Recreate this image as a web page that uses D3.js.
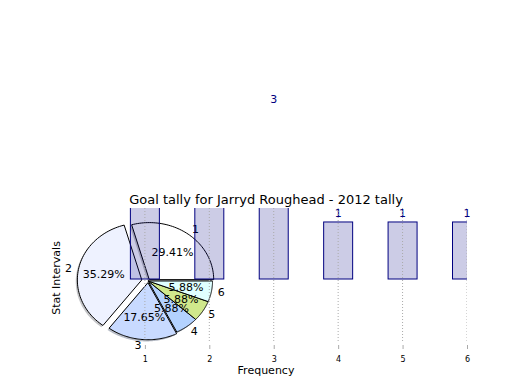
<!DOCTYPE html>
<html><head><meta charset="utf-8">
<script src="https://cdn.jsdelivr.net/npm/d3@7"></script>
<style>body{margin:0;background:#fff}svg{font-family:"DejaVu Sans",sans-serif}</style>
</head><body><svg id="c" width="520" height="390"></svg>
<script>
const categories = [1, 2, 3, 4, 5, 6];
const goalCounts = [5, 6, 3, 1, 1, 1];
const sliceLabels = ["1", "2", "3", "4", "5", "6"];
const sliceColors = ["#ffffff", "#eef2ff", "#c8daff", "#b3d2ff", "#d0e88c", "#e0ffff"];
const sliceExplode = [0.03, 0.1, 0.03, 0, 0, 0];
const xTicks = [1, 2, 3, 4, 5, 6];
const titleText = "Goal tally for Jarryd Roughead - 2012 tally";

const svg = d3.select("#c");
const L = 65, R = 467, T = 208, B = 348;
const x = d3.scaleLinear().domain([-0.24, 6]).range([L, R]);
const y = d3.scaleLinear().domain([-1.21, 1.245]).range([B, T]);

svg.append("defs").append("clipPath").attr("id", "ax")
  .append("rect").attr("x", L).attr("y", T).attr("width", R - L).attr("height", B - T);

// ---- pie (radius 1 in data units, elliptical due to axes aspect) ----
const pc = [1.05, -0.035], pr = 1;
const total = d3.sum(goalCounts);
const arcs = d3.pie().sort(null).startAngle(Math.PI / 2).endAngle(Math.PI / 2 - 2 * Math.PI)(goalCounts);
function pt(cx, cy, r, th) { return [x(cx + r * Math.sin(th)), y(cy + r * Math.cos(th))]; }
function wedgePath(a, cx, cy) {
  const n = 60, pts = [[x(cx), y(cy)]];
  for (let i = 0; i <= n; i++) pts.push(pt(cx, cy, pr, a.startAngle + (a.endAngle - a.startAngle) * i / n));
  return "M" + pts.map(p => p.join(",")).join("L") + "Z";
}
const pieG = svg.append("g");
const geo = arcs.map((a, i) => {
  const mid = (a.startAngle + a.endAngle) / 2;
  const e = sliceExplode[i];
  return { a, i, mid, cx: pc[0] + e * pr * Math.sin(mid), cy: pc[1] + e * pr * Math.cos(mid) };
});
geo.forEach(g => {
  pieG.append("path").attr("d", wedgePath(g.a, g.cx - 0.025, g.cy - 0.03))
    .attr("fill", d3.color(sliceColors[g.i]).darker(1.6)).attr("opacity", 0.5);
});
geo.forEach(g => {
  pieG.append("path").attr("d", wedgePath(g.a, g.cx, g.cy))
    .attr("fill", sliceColors[g.i]).attr("stroke", "#000").attr("stroke-width", 1).attr("stroke-linejoin", "round");
});
geo.forEach(g => {
  const lp = pt(g.cx, g.cy, 1.1 * pr, g.mid);
  const right = Math.sin(g.mid) > 0;
  pieG.append("text").attr("x", lp[0]).attr("y", lp[1]).attr("dy", "0.35em")
    .attr("text-anchor", right ? "start" : "end").attr("font-size", 11).text(sliceLabels[g.i]);
  const pp = pt(g.cx, g.cy, 0.6 * pr, g.mid);
  pieG.append("text").attr("x", pp[0]).attr("y", pp[1]).attr("dy", "0.35em")
    .attr("text-anchor", "middle").attr("font-size", 11)
    .text((goalCounts[g.i] / total * 100).toFixed(2) + "%");
});

// ---- bars ----
const bw = 0.45;
svg.append("g").attr("clip-path", "url(#ax)").selectAll("rect").data(categories).join("rect")
  .attr("x", (d) => x(d - bw / 2)).attr("width", x(bw) - x(0))
  .attr("y", (d, i) => y(goalCounts[i])).attr("height", (d, i) => y(0) - y(goalCounts[i]))
  .attr("fill", "navy").attr("fill-opacity", 0.2).attr("stroke", "navy").attr("stroke-width", 1);

// value labels (those of the tallest bars fall above the canvas, as in the original)
svg.append("g").selectAll("text")
  .data(categories.map((d, i) => ({ d, v: goalCounts[i] })).filter(o => y(o.v) - 5 > 12))
  .join("text")
  .attr("x", o => x(o.d)).attr("y", o => y(o.v) - 5)
  .attr("text-anchor", "middle").attr("font-size", 11).attr("fill", "navy")
  .text(o => o.v);

// ---- grid + ticks ----
const grid = svg.append("g").attr("clip-path", "url(#ax)");
grid.selectAll("line").data(xTicks).join("line")
  .attr("x1", d => x(d)).attr("x2", d => x(d)).attr("y1", T).attr("y2", B - 5)
  .attr("stroke", "#aaa").attr("stroke-width", 1).attr("stroke-dasharray", "1,2");
const xa = svg.append("g").attr("transform", `translate(0,${B})`)
  .call(d3.axisBottom(x).tickValues(xTicks).tickFormat(d3.format("d")).tickSize(-4).tickPadding(8));
xa.select(".domain").remove();
xa.selectAll(".tick line").attr("stroke", "#aaa").attr("transform", "translate(0,1)");
xa.selectAll(".tick text").attr("font-size", 8).attr("font-family", "DejaVu Sans").attr("fill", "#000");

// ---- texts ----
svg.append("text").attr("x", (L + R) / 2).attr("y", T - 4).attr("text-anchor", "middle")
  .attr("font-size", 13).text(titleText);
svg.append("text").attr("x", (L + R) / 2).attr("y", 374).attr("text-anchor", "middle")
  .attr("font-size", 11).text("Frequency");
svg.append("text").attr("transform", `translate(60,${(T + B) / 2}) rotate(-90)`)
  .attr("text-anchor", "middle").attr("font-size", 11).text("Stat Intervals");
</script></body></html>
